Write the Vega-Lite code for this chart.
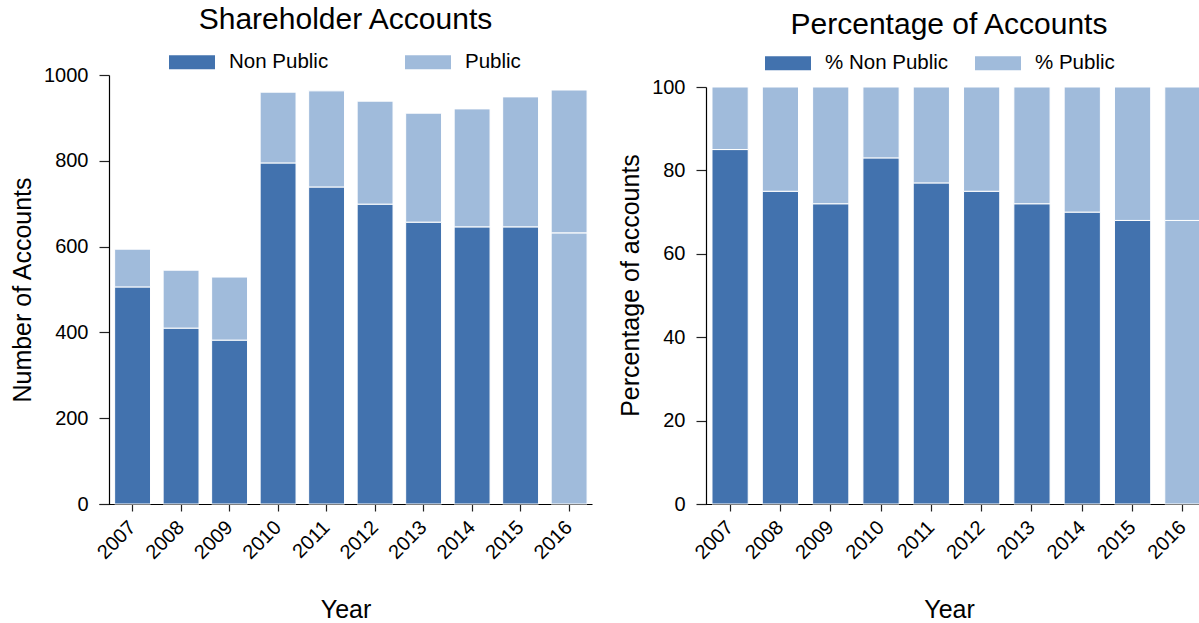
{
  "$schema": "https://vega.github.io/schema/vega-lite/v6.json",
  "padding": {"left": 10, "top": 4, "right": 0, "bottom": 0},
  "background": "white",
  "datasets": {
    "accounts": [
      {"Year": 2007, "Type": "Non Public", "Accounts": 506},
      {"Year": 2007, "Type": "Public", "Accounts": 88},
      {"Year": 2008, "Type": "Non Public", "Accounts": 410},
      {"Year": 2008, "Type": "Public", "Accounts": 135},
      {"Year": 2009, "Type": "Non Public", "Accounts": 382},
      {"Year": 2009, "Type": "Public", "Accounts": 147},
      {"Year": 2010, "Type": "Non Public", "Accounts": 795},
      {"Year": 2010, "Type": "Public", "Accounts": 165},
      {"Year": 2011, "Type": "Non Public", "Accounts": 739},
      {"Year": 2011, "Type": "Public", "Accounts": 224},
      {"Year": 2012, "Type": "Non Public", "Accounts": 699},
      {"Year": 2012, "Type": "Public", "Accounts": 240},
      {"Year": 2013, "Type": "Non Public", "Accounts": 657},
      {"Year": 2013, "Type": "Public", "Accounts": 254},
      {"Year": 2014, "Type": "Non Public", "Accounts": 646},
      {"Year": 2014, "Type": "Public", "Accounts": 275},
      {"Year": 2015, "Type": "Non Public", "Accounts": 646},
      {"Year": 2015, "Type": "Public", "Accounts": 303},
      {"Year": 2016, "Type": "Non Public", "Accounts": 632},
      {"Year": 2016, "Type": "Public", "Accounts": 333}
    ],
    "percent": [
      {"Year": 2007, "Type": "% Non Public", "Percent": 85},
      {"Year": 2007, "Type": "% Public", "Percent": 15},
      {"Year": 2008, "Type": "% Non Public", "Percent": 75},
      {"Year": 2008, "Type": "% Public", "Percent": 25},
      {"Year": 2009, "Type": "% Non Public", "Percent": 72},
      {"Year": 2009, "Type": "% Public", "Percent": 28},
      {"Year": 2010, "Type": "% Non Public", "Percent": 83},
      {"Year": 2010, "Type": "% Public", "Percent": 17},
      {"Year": 2011, "Type": "% Non Public", "Percent": 77},
      {"Year": 2011, "Type": "% Public", "Percent": 23},
      {"Year": 2012, "Type": "% Non Public", "Percent": 75},
      {"Year": 2012, "Type": "% Public", "Percent": 25},
      {"Year": 2013, "Type": "% Non Public", "Percent": 72},
      {"Year": 2013, "Type": "% Public", "Percent": 28},
      {"Year": 2014, "Type": "% Non Public", "Percent": 70},
      {"Year": 2014, "Type": "% Public", "Percent": 30},
      {"Year": 2015, "Type": "% Non Public", "Percent": 68},
      {"Year": 2015, "Type": "% Public", "Percent": 32},
      {"Year": 2016, "Type": "% Non Public", "Percent": 68},
      {"Year": 2016, "Type": "% Public", "Percent": 32}
    ]
  },
  "spacing": 26,
  "hconcat": [
    {
      "data": {"name": "accounts"},
      "width": 493,
      "height": 429,
      "title": {"text": "Shareholder Accounts", "fontSize": 30, "fontWeight": "normal", "frame": "group", "anchor": "middle", "offset": 4.5},
      "mark": {"type": "bar", "stroke": "white", "strokeWidth": 1},
      "encoding": {
        "x": {
          "field": "Year", "type": "ordinal", "title": "Year",
          "scale": {"paddingInner": 0.26, "paddingOuter": 0.212, "align": 0.76},
          "axis": {"labelAngle": -45, "labelAlign": "right", "labelBaseline": "middle", "tickSize": 7, "labelPadding": 13, "titlePadding": 35}
        },
        "y": {
          "field": "Accounts", "type": "quantitative", "stack": "zero", "title": "Number of Accounts",
          "scale": {"domain": [0, 1000], "nice": false},
          "axis": {"values": [0, 200, 400, 600, 800, 1000], "format": "d", "offset": -10, "tickSize": 10, "labelPadding": 11, "titlePadding": 8}
        },
        "order": {"field": "Type", "sort": "ascending"},
        "color": {
          "field": "Type", "type": "nominal",
          "condition": {"test": "datum.Year == 2016", "value": "#a0bbdb"},
          "scale": {"domain": ["Non Public", "Public"], "range": ["#4272ae", "#a0bbdb"]},
          "legend": {"title": null, "orient": "none", "legendX": 70, "legendY": -36, "direction": "horizontal", "columns": 2, "columnPadding": 76, "symbolType": "M-1,-0.3H1V0.3H-1Z", "symbolSize": 2116, "symbolStrokeWidth": 0, "labelOffset": 14, "labelFontSize": 20.5, "padding": 0}
        }
      }
    },
    {
      "data": {"name": "percent"},
      "width": 504,
      "height": 429,
      "title": {"text": "Percentage of Accounts", "fontSize": 30, "fontWeight": "normal", "frame": "group", "anchor": "middle", "offset": 0},
      "mark": {"type": "bar", "stroke": "white", "strokeWidth": 1},
      "encoding": {
        "x": {
          "field": "Year", "type": "ordinal", "title": "Year",
          "scale": {"paddingInner": 0.28, "paddingOuter": 0.149, "align": 1},
          "axis": {"labelAngle": -45, "labelAlign": "right", "labelBaseline": "middle", "tickSize": 7, "labelPadding": 13, "titlePadding": 35}
        },
        "y": {
          "field": "Percent", "type": "quantitative", "stack": "zero", "title": "Percentage of accounts",
          "scale": {"domain": [0, 100], "nice": false, "range": [429, 12]},
          "axis": {"values": [0, 20, 40, 60, 80, 100], "offset": -9, "tickSize": 10, "labelPadding": 11, "titlePadding": 8, "titleY": 210}
        },
        "order": {"field": "Type", "sort": "ascending"},
        "color": {
          "field": "Type", "type": "nominal",
          "condition": {"test": "datum.Year == 2016", "value": "#a0bbdb"},
          "scale": {"domain": ["% Non Public", "% Public"], "range": ["#4272ae", "#a0bbdb"]},
          "legend": {"title": null, "orient": "none", "legendX": 68, "legendY": -35, "direction": "horizontal", "columns": 2, "columnPadding": 26, "symbolType": "M-1,-0.3H1V0.3H-1Z", "symbolSize": 2116, "symbolStrokeWidth": 0, "labelOffset": 14, "labelFontSize": 20.5, "padding": 0}
        }
      }
    }
  ],
  "resolve": {"scale": {"color": "independent", "x": "independent", "y": "independent"}},
  "config": {
    "font": "Liberation Sans",
    "view": {"stroke": null},
    "title": {"color": "#000000"},
    "axis": {
      "grid": false,
      "domainColor": "#000000",
      "domainWidth": 1.2,
      "tickColor": "#222222",
      "tickWidth": 1.2,
      "labelFontSize": 20,
      "labelColor": "#000000",
      "titleFontSize": 25,
      "titleFontWeight": "normal",
      "titleColor": "#000000"
    },
    "legend": {"labelColor": "#000000"}
  }
}
